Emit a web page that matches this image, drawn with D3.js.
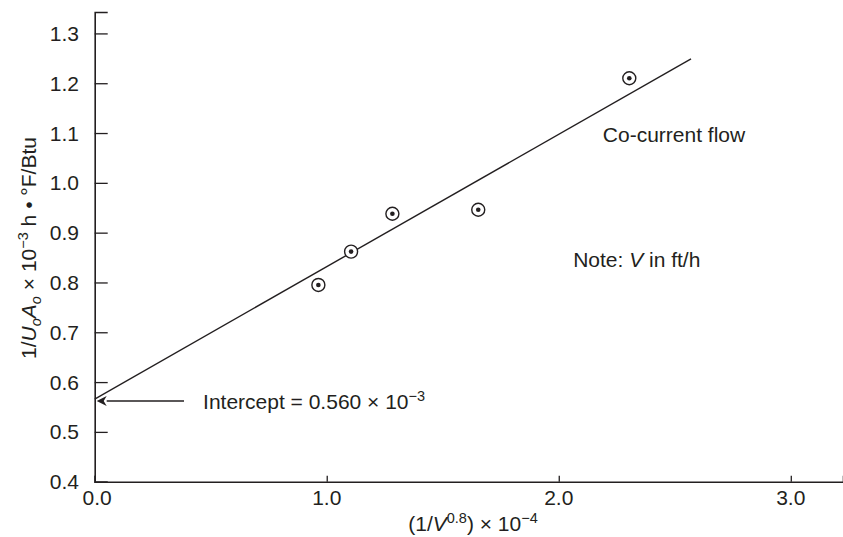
<!DOCTYPE html>
<html><head><meta charset="utf-8">
<script src="https://cdn.jsdelivr.net/npm/d3@7"></script>
<style>
html,body{margin:0;padding:0;background:#fff;}
text{font-family:"Liberation Sans",Arial,Helvetica,sans-serif;fill:#231f20;}
</style></head><body>
<svg id="chart" width="843" height="537"></svg>
<script>
// ---- data ----
const xTicks = [0.0, 1.0, 2.0, 3.0];
const yTicks = [0.4, 0.5, 0.6, 0.7, 0.8, 0.9, 1.0, 1.1, 1.2, 1.3];
const pointsX = [0.964, 1.105, 1.283, 1.653, 2.304];
const pointsY = [0.795, 0.862, 0.938, 0.946, 1.210];
const fitX = [0.0, 2.570];
const fitY = [0.566, 1.249];
const interceptY = 0.562;
const xDomain = [0, 3.225];
const yDomain = [0.4, 1.343];

const svg = d3.select("#chart");
const ink = "#231f20";
const FS = 21, SS = 14.5;
const x = d3.scaleLinear().domain(xDomain).range([94.7, 843]);
const y = d3.scaleLinear().domain(yDomain).range([481.7, 12]);

// axes
const yAxis = d3.axisRight(y).tickValues(yTicks).tickSize(13).tickFormat("");
const gy = svg.append("g").attr("transform", `translate(${x(0)},0)`).call(yAxis);
const xAxis = d3.axisTop(x).tickValues(xTicks).tickSize(6).tickFormat("");
const gx = svg.append("g").attr("transform", `translate(0,${y(0.4)})`).call(xAxis);
[gx, gy].forEach(g => {
  g.select(".domain").attr("stroke", ink).attr("stroke-width", 1.6);
  g.selectAll(".tick line").attr("stroke", ink).attr("stroke-width", 1.3);
});

// tick labels
svg.append("g").selectAll("text").data(yTicks).join("text")
  .attr("x", 79).attr("y", d => y(d)).attr("dy", "0.36em")
  .attr("text-anchor", "end").attr("font-size", FS)
  .text(d => d.toFixed(1));
svg.append("g").selectAll("text").data(xTicks).join("text")
  .attr("x", d => x(d) + (d === 0 ? 2.5 : 0)).attr("y", 505)
  .attr("text-anchor", "middle").attr("font-size", FS)
  .text(d => d.toFixed(1));

// fit line
const line = d3.line().x(d => x(d[0])).y(d => y(d[1]));
svg.append("path").datum(fitX.map((v, i) => [v, fitY[i]]))
  .attr("d", line).attr("fill", "none").attr("stroke", ink).attr("stroke-width", 1.4);

// points
const pts = pointsX.map((v, i) => [v, pointsY[i]]);
const gp = svg.append("g").selectAll("g").data(pts).join("g")
  .attr("transform", d => `translate(${x(d[0])},${y(d[1])})`);
gp.append("circle").attr("r", 6.5).attr("fill", "#fff").attr("stroke", ink).attr("stroke-width", 1.4);
gp.append("circle").attr("r", 2.3).attr("fill", ink);

// arrow for intercept
svg.append("defs").append("marker").attr("id", "ah")
  .attr("viewBox", "0 0 10 10").attr("refX", 0).attr("refY", 5)
  .attr("markerWidth", 11).attr("markerHeight", 10).attr("markerUnits", "userSpaceOnUse")
  .attr("orient", "auto-start-reverse")
  .append("path").attr("d", "M0,0 L10,5 L0,10 L3,5 Z").attr("fill", ink);
svg.append("line")
  .attr("x1", x(0.385)).attr("y1", y(interceptY))
  .attr("x2", x(0.0) + 12).attr("y2", y(interceptY))
  .attr("stroke", ink).attr("stroke-width", 1.3)
  .attr("marker-end", "url(#ah)");

// intercept label
const it = svg.append("text").attr("x", x(0.467)).attr("y", y(interceptY)).attr("dy", "0.36em")
  .attr("font-size", FS);
it.append("tspan").text("Intercept = 0.560 × 10");
it.append("tspan").attr("dy", -8).attr("font-size", SS).text("−3");

// annotations
svg.append("text").attr("x", x(2.19)).attr("y", y(1.083)).attr("font-size", FS).text("Co-current flow");
const note = svg.append("text").attr("x", x(2.062)).attr("y", y(0.831)).attr("font-size", FS);
note.append("tspan").text("Note: ");
note.append("tspan").attr("font-style", "italic").text("V");
note.append("tspan").text(" in ft/h");

// x-axis title
const xt = svg.append("text").attr("x", 473).attr("y", 531).attr("text-anchor", "middle").attr("font-size", FS);
xt.append("tspan").text("(1/");
xt.append("tspan").attr("font-style", "italic").text("V");
xt.append("tspan").attr("dy", -8).attr("font-size", SS).text("0.8");
xt.append("tspan").attr("dy", 8).text(") × 10");
xt.append("tspan").attr("dy", -8).attr("font-size", SS).text("−4");

// y-axis title
const yt = svg.append("text").attr("transform", "translate(36,248) rotate(-90)")
  .attr("text-anchor", "middle").attr("font-size", FS);
yt.append("tspan").text("1/");
yt.append("tspan").attr("font-style", "italic").text("U");
yt.append("tspan").attr("font-style", "italic").attr("font-size", SS).attr("dy", 5).text("o");
yt.append("tspan").attr("font-style", "italic").attr("dy", -5).text("A");
yt.append("tspan").attr("font-style", "italic").attr("font-size", SS).attr("dy", 5).text("o");
yt.append("tspan").attr("dy", -5).text(" × 10");
yt.append("tspan").attr("font-size", SS).attr("dy", -8).text("−3");
yt.append("tspan").attr("dy", 8).text(" h • °F/Btu");
</script>
</body></html>
